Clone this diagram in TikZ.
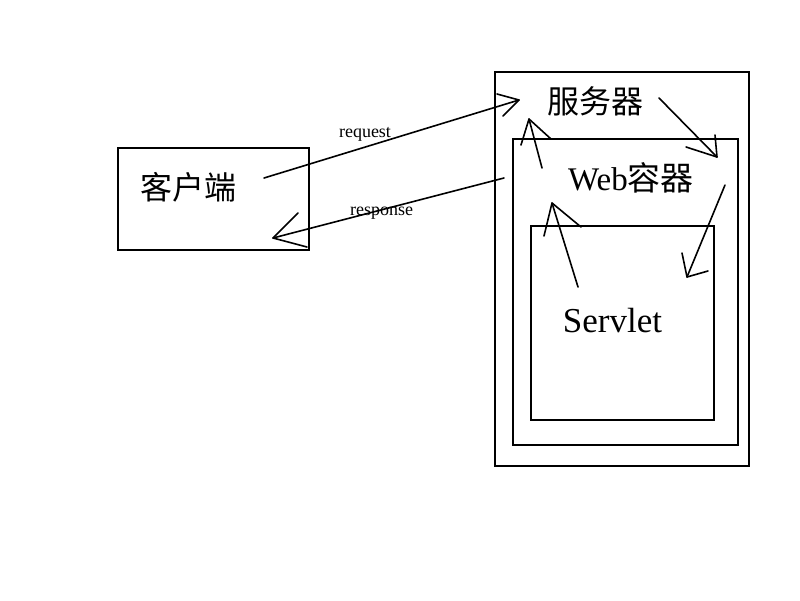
\documentclass[tikz,border=0pt]{standalone}
\usepackage{fontspec}
\setmainfont{Liberation Serif}
\newfontfamily\cjk{Noto Sans CJK SC}
\begin{document}
\begin{tikzpicture}[x=1pt,y=-1pt,
  box/.style={draw,line width=1.8pt,inner sep=0pt},
  ln/.style={line width=1.6pt,line cap=round,line join=round},
  big/.style={inner sep=0pt,font=\fontsize{32}{34}\selectfont},
  small/.style={inner sep=0pt,font=\fontsize{18}{20}\selectfont}]
\useasboundingbox[fill=white] (0,0) rectangle (800,600);
% boxes
\node[box,minimum width=191pt,minimum height=102pt] (client) at (213.5,199) {};
\node[box,minimum width=254pt,minimum height=394pt] (server) at (622,269) {};
\node[box,minimum width=225pt,minimum height=306pt] (web) at (625.5,292) {};
\node[box,minimum width=183pt,minimum height=194pt] (servlet) at (622.5,323) {};
% labels
\node[big] (tclient) at (188,187) {\cjk 客户端};
\node[big] (tserver) at (595,101) {\cjk 服务器};
\node[big,font=\fontsize{33}{35}\selectfont] (tweb) at (631,178) {Web{\cjk 容器}};
\node[big,font=\fontsize{35}{37}\selectfont] (tservlet) at (612.5,321) {Servlet};
\node[small] (treq) at (365,134) {request};
\node[small] (tresp) at (381.5,213) {response};
% arrow points
\coordinate (a1s) at (264,178); \coordinate (a1t) at (519,100);
\coordinate (a1h) at (497,94); \coordinate (a1k) at (503,116);
\coordinate (a2s) at (504,178); \coordinate (a2t) at (273,238);
\coordinate (a2h) at (298,213); \coordinate (a2k) at (307,247);
\coordinate (a3s) at (542,168); \coordinate (a3t) at (529,119);
\coordinate (a3h) at (521,145); \coordinate (a3k) at (551,139);
\coordinate (a4s) at (578,287); \coordinate (a4t) at (552,203);
\coordinate (a4h) at (544,236); \coordinate (a4k) at (581,227);
\coordinate (a5s) at (659,98); \coordinate (a5t) at (717,157);
\coordinate (a5h) at (715,135); \coordinate (a5k) at (686,147);
\coordinate (a6s) at (725,185); \coordinate (a6t) at (687,277);
\coordinate (a6h) at (682,253); \coordinate (a6k) at (708,271);
\foreach \i in {1,...,6}{
  \draw[ln] (a\i s) -- (a\i t);
  \draw[ln] (a\i h) -- (a\i t) -- (a\i k);
}
\end{tikzpicture}
\end{document}
